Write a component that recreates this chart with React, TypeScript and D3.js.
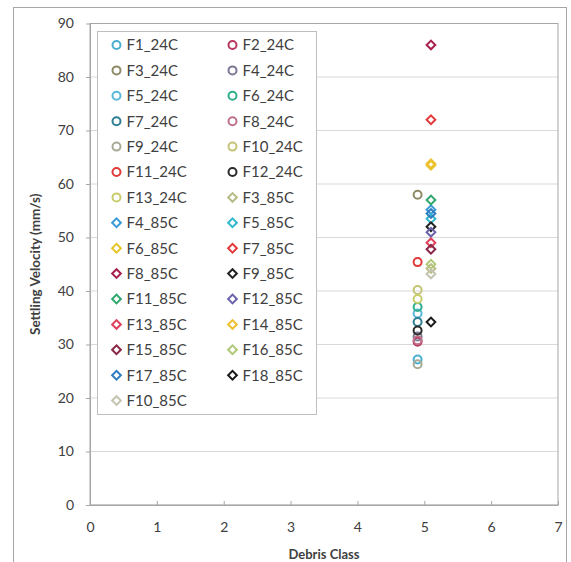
import React, { useEffect, useRef } from 'react'
import * as d3 from 'd3'

// series names, marker colours and settling velocities (mm/s)
const seriesNames = [
  'F1_24C', 'F2_24C', 'F3_24C', 'F4_24C', 'F5_24C', 'F6_24C', 'F7_24C', 'F8_24C',
  'F9_24C', 'F10_24C', 'F11_24C', 'F12_24C', 'F13_24C', 'F3_85C', 'F4_85C', 'F5_85C',
  'F6_85C', 'F7_85C', 'F8_85C', 'F9_85C', 'F11_85C', 'F12_85C', 'F13_85C', 'F14_85C',
  'F15_85C', 'F16_85C', 'F17_85C', 'F18_85C', 'F10_85C',
]
const seriesColors = [
  '#4aaed0', '#b8385e', '#8f8a66', '#7c7896', '#5ab8d8', '#2fae8c', '#2f7f94', '#c07088',
  '#a8aa98', '#c4c478', '#e03a3a', '#2a2a2a', '#c8cc6c', '#b8bc86', '#3a9ad8', '#30b8cc',
  '#e8c428', '#e23a3a', '#a82050', '#222222', '#2ea86c', '#6a62aa', '#e0405a', '#eec030',
  '#8a2444', '#b0c878', '#2f7cc0', '#1a1a1a', '#c4c4b0',
]
const seriesShapes = seriesNames.map(n => (n.endsWith('24C') ? 'circle' : 'diamond'))
const debrisClass = seriesNames.map(n => (n.endsWith('24C') ? 4.9 : 5.1))
const velocity = [
  27.2, 30.5, 58.0, 31.5, 35.8, 37.0, 34.2, 30.8, 26.3, 40.2, 45.4, 32.6, 38.5,
  44.2, 55.2, 53.5, 63.5, 72.0, 86.0, 52.0, 57.0, 51.0, 49.0, 63.8, 47.8, 45.0,
  54.5, 34.2, 43.2,
]
const xTicks = [0, 1, 2, 3, 4, 5, 6, 7]
const yTicks = [0, 10, 20, 30, 40, 50, 60, 70, 80, 90]

const W = 571
const H = 562
const font = 'Lato, "Open Sans", sans-serif'

export default function App() {
  const svgRef = useRef<SVGSVGElement>(null)

  useEffect(() => {
    if (!svgRef.current) return
    const svg = d3.select(svgRef.current)
    svg.selectAll('*').remove()

    const margin = { top: 23.5, right: 13, bottom: 57, left: 90 }
    const width = W - margin.left - margin.right
    const height = H - margin.top - margin.bottom

    // outer chart frame
    svg.append('rect')
      .attr('x', 13.5).attr('y', 7.5).attr('width', 553).attr('height', 580)
      .attr('fill', 'white').attr('stroke', '#a6a6a6')

    const g = svg.append('g').attr('transform', `translate(${margin.left},${margin.top})`)

    const x = d3.scaleLinear().domain([0, 7]).range([0, width])
    const y = d3.scaleLinear().domain([0, 90]).range([height, 0])

    // grid lines
    g.selectAll('.grid-y')
      .data(yTicks)
      .enter()
      .append('line')
      .attr('x1', 0).attr('x2', width)
      .attr('y1', d => y(d)).attr('y2', d => y(d))
      .attr('stroke', '#d9d9d9')

    // plot box
    g.append('rect')
      .attr('x', 0).attr('y', 0).attr('width', width).attr('height', height)
      .attr('fill', 'none').attr('stroke', '#a6a6a6')

    // axes
    const xAxis = g.append('g')
      .attr('transform', `translate(0,${height})`)
      .call(d3.axisBottom(x).tickValues(xTicks).tickFormat(d3.format('d')).tickSize(4).tickSizeOuter(0).tickPadding(13))
    xAxis.select('.domain').attr('stroke', '#a6a6a6')
    xAxis.selectAll('.tick line').attr('stroke', '#a6a6a6').attr('transform', 'translate(0,-4)')

    const yAxis = g.append('g')
      .call(d3.axisLeft(y).tickValues(yTicks).tickFormat(d3.format('d')).tickSize(4).tickSizeOuter(0).tickPadding(12))
    yAxis.select('.domain').attr('stroke', '#a6a6a6')
    yAxis.selectAll('.tick line').attr('stroke', '#a6a6a6')

    svg.selectAll('.tick text')
      .attr('fill', '#404040')
      .style('font-family', font)
      .style('font-size', '14px')

    // axis titles
    svg.append('text')
      .attr('x', margin.left + width / 2)
      .attr('y', 559)
      .attr('text-anchor', 'middle')
      .attr('fill', '#404040')
      .style('font-family', font)
      .style('font-size', '13px')
      .style('font-weight', 'bold')
      .text('Debris Class')

    svg.append('text')
      .attr('transform', `translate(40,${margin.top + height / 2}) rotate(-90)`)
      .attr('text-anchor', 'middle')
      .attr('fill', '#404040')
      .style('font-family', font)
      .style('font-size', '13.5px')
      .style('font-weight', 'bold')
      .text('Settling Velocity (mm/s)')

    const circle = d3.symbol().type(d3.symbolCircle).size(50)
    const diamond = d3.symbol().type(d3.symbolSquare).size(38)

    const points = seriesNames.map((name, i) => ({
      name, color: seriesColors[i], shape: seriesShapes[i], cx: debrisClass[i], v: velocity[i],
    }))

    // legend box
    const legend = svg.append('g').attr('transform', 'translate(97.5,31.5)')
    legend.append('rect')
      .attr('width', 219).attr('height', 383)
      .attr('fill', 'white').attr('stroke', '#bfbfbf')

    const rowH = 25.4
    const item = legend.selectAll('.item')
      .data(points)
      .enter()
      .append('g')
      .attr('transform', (d, i) => `translate(${19 + (i % 2) * 116},${13.5 + Math.floor(i / 2) * rowH})`)

    item.append('path')
      .attr('d', d => (d.shape === 'circle' ? circle() : diamond()))
      .attr('transform', d => (d.shape === 'circle' ? '' : 'rotate(45)'))
      .attr('fill', 'none')
      .attr('stroke', d => d.color)
      .attr('stroke-width', 2)

    item.append('text')
      .attr('x', 10)
      .attr('dy', '0.36em')
      .attr('fill', '#404040')
      .style('font-family', font)
      .style('font-size', '15px')
      .text(d => d.name)

    // data markers
    g.selectAll('.pt')
      .data(points)
      .enter()
      .append('path')
      .attr('d', d => (d.shape === 'circle' ? circle() : diamond()))
      .attr('transform', d => `translate(${x(d.cx)},${y(d.v)})${d.shape === 'circle' ? '' : ' rotate(45)'}`)
      .attr('fill', 'none')
      .attr('stroke', d => d.color)
      .attr('stroke-width', 2)
  }, [])

  return (
    <div style={{ position: 'absolute', left: 0, top: 0 }}>
      <svg ref={svgRef} width={W} height={H} style={{ display: 'block', background: 'white' }} />
    </div>
  )
}
